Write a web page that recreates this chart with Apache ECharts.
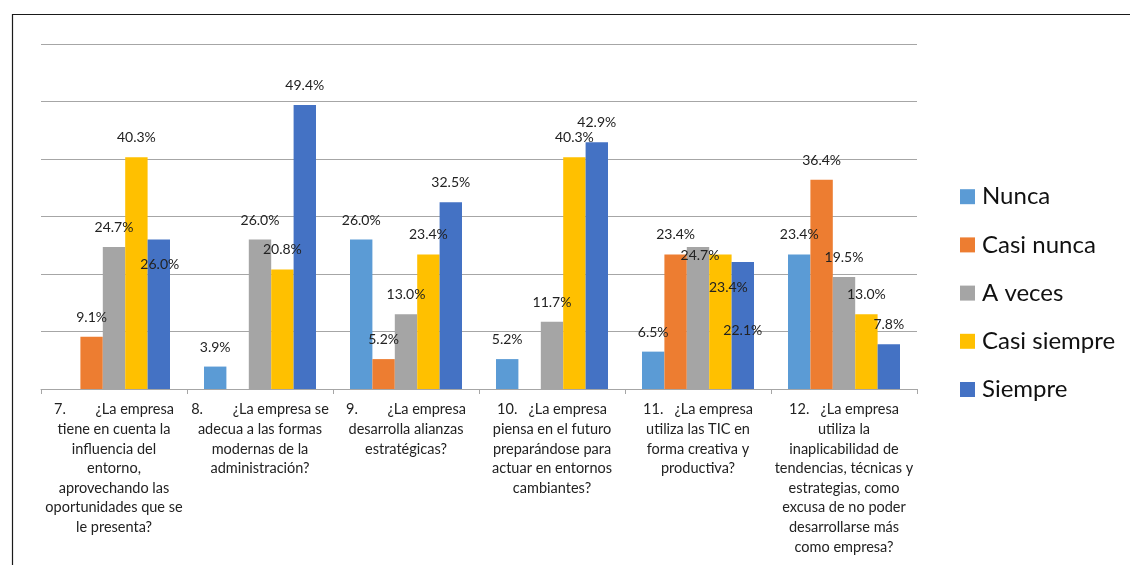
<!DOCTYPE html>
<html>
<head>
<meta charset="utf-8">
<script src="https://cdn.jsdelivr.net/npm/echarts@6/dist/echarts.min.js"></script>
<style>
  html, body { margin: 0; padding: 0; background: #ffffff; }
  #chart { width: 1130px; height: 565px; }
</style>
</head>
<body>
<div id="chart"></div>
<script>
// Survey questions (x-axis categories, wrapped as in the questionnaire)
const categories = [
  '7.        ¿La empresa\ntiene en cuenta la\ninfluencia del\nentorno,\naprovechando las\noportunidades que se\nle presenta?',
  '8.        ¿La empresa se\nadecua a las formas\nmodernas de la\nadministración?',
  '9.        ¿La empresa\ndesarrolla alianzas\nestratégicas?',
  '10.   ¿La empresa\npiensa en el futuro\npreparándose para\nactuar en entornos\ncambiantes?',
  '11.   ¿La empresa\nutiliza las TIC en\nforma creativa y\nproductiva?',
  '12.   ¿La empresa\nutiliza la\ninaplicabilidad de\ntendencias, técnicas y\nestrategias, como\nexcusa de no poder\ndesarrollarse más\ncomo empresa?'
];

// Answer frequencies, in percent
const nunca       = [0,    3.9,  26.0, 5.2,  6.5,  23.4];
const casiNunca   = [9.1,  0,    5.2,  0,    23.4, 36.4];
const aVeces      = [24.7, 26.0, 13.0, 11.7, 24.7, 19.5];
const casiSiempre = [40.3, 20.8, 23.4, 40.3, 23.4, 13.0];
const siempre     = [26.0, 49.4, 32.5, 42.9, 22.1, 7.8];

const seriesNames = ['Nunca', 'Casi nunca', 'A veces', 'Casi siempre', 'Siempre'];
const seriesValues = [nunca, casiNunca, aVeces, casiSiempre, siempre];
const seriesColors = ['#5B9BD5', '#ED7D31', '#A5A5A5', '#FFC000', '#4472C4'];

// A few value labels sit lower inside their bars to avoid crowding: [dx, dy]
const labelShifts = {
  '4-0': [1, 44],
  '2-4': [2, 28],
  '3-4': [8, 53],
  '4-4': [0, 88]
};

const FONT = 'Lato, "Open Sans", sans-serif';

const series = seriesNames.map((name, s) => ({
  name: name,
  type: 'bar',
  barWidth: 22.4,
  barGap: '0%',
  itemStyle: { color: seriesColors[s] },
  label: {
    show: true,
    position: 'top',
    distance: 12.5,
    fontFamily: FONT,
    fontSize: 14,
    lineHeight: 14,
    color: '#222222',
    formatter: p => (p.value ? p.value.toFixed(1) + '%' : '')
  },
  data: seriesValues[s].map((v, c) => {
    const shift = labelShifts[s + '-' + c];
    return shift ? { value: v, label: { offset: shift } } : v;
  })
}));

const chart = echarts.init(document.getElementById('chart'), null, { renderer: 'canvas' });
chart.setOption({
  animation: false,
  backgroundColor: '#ffffff',
  grid: { left: 41, right: 213, top: 44, bottom: 176, containLabel: false },
  legend: {
    orient: 'vertical',
    left: 960,
    top: 184.7,
    padding: 0,
    itemWidth: 15,
    itemHeight: 15,
    itemGap: 24.2,
    icon: 'rect',
    textStyle: { fontFamily: FONT, fontSize: 24, lineHeight: 24, color: '#111111', padding: [0, 0, 0, 2] },
    data: seriesNames
  },
  xAxis: {
    type: 'category',
    data: categories,
    axisLine: { lineStyle: { color: '#A6A6A6', width: 1 } },
    axisTick: { show: true, length: 5, interval: 0, lineStyle: { color: '#A6A6A6' } },
    axisLabel: {
      interval: 0,
      margin: 11,
      fontFamily: FONT,
      fontSize: 14.5,
      lineHeight: 19.6,
      color: '#222222',
      align: 'center'
    }
  },
  yAxis: {
    type: 'value',
    min: 0,
    max: 60,
    interval: 10,
    axisLabel: { show: false },
    axisLine: { show: false },
    axisTick: { show: false },
    splitLine: { lineStyle: { color: '#A6A6A6', width: 1 } }
  },
  graphic: [{
    type: 'polyline',
    silent: true,
    shape: { points: [[12.5, 700], [12.5, 14.5], [1200, 14.5]] },
    style: { stroke: '#1a1a1a', lineWidth: 1.2, fill: null }
  }],
  series: series
});
</script>
</body>
</html>
